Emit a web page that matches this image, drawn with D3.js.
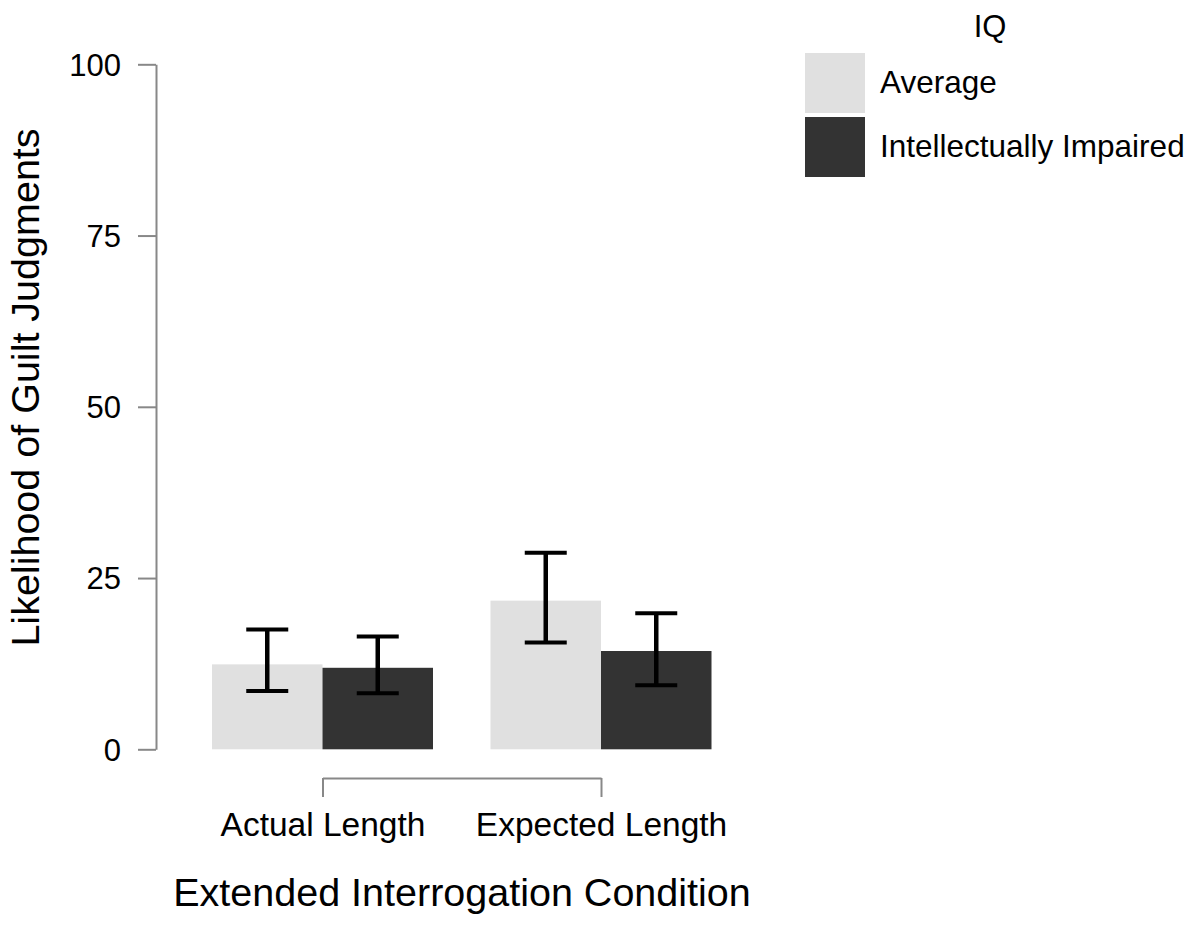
<!DOCTYPE html>
<html>
<head>
<meta charset="utf-8">
<script src="https://cdn.jsdelivr.net/npm/d3@7"></script>
<style>
  body { margin: 0; background: #fff; }
  text { font-family: "Liberation Sans", Arial, sans-serif; fill: #000; }
</style>
</head>
<body>
<div id="chart"></div>
<script>
// data
var conditions = ["Actual Length", "Expected Length"];
var groups = ["Average", "Intellectually Impaired"];
var means = [[12.4, 11.9], [21.7, 14.35]];
var lower = [[8.5, 8.2], [15.6, 9.35]];
var upper = [[17.5, 16.45], [28.7, 19.85]];
var yTicks = [0, 25, 50, 75, 100];
var groupColors = ["#e0e0e0", "#333333"];

var width = 1193, height = 925;

var svg = d3.select("#chart").append("svg")
	.attr("width", width)
	.attr("height", height);

var y = d3.scaleLinear().domain([0, 100]).range([749.3, 64.3]);

var x = d3.scalePoint().domain(conditions).range([322.5, 601]);

var xInner = d3.scaleBand().domain(groups).range([-110.5, 110.5]).padding(0);

// y axis
var yAxis = svg.append("g")
	.attr("transform", "translate(156,0)")
	.call(d3.axisLeft(y).tickValues(yTicks).tickSize(18).tickSizeOuter(0).tickPadding(17));
yAxis.select(".domain").attr("stroke", "#888").attr("stroke-width", 2);
yAxis.selectAll(".tick line").attr("stroke", "#888").attr("stroke-width", 2);
yAxis.selectAll(".tick text")
	.style("font-family", "Liberation Sans, Arial, sans-serif")
	.style("font-size", "31px")
	.attr("fill", "#000")
	.attr("dy", "0.35em");

// x axis bracket
var xAxis = svg.append("g")
	.attr("transform", "translate(0,778)")
	.call(d3.axisBottom(x).tickSize(19).tickSizeOuter(0).tickPadding(15));
xAxis.select(".domain").attr("stroke", "#888").attr("stroke-width", 2);
xAxis.selectAll(".tick line").attr("stroke", "#888").attr("stroke-width", 2);
xAxis.selectAll(".tick text")
	.style("font-family", "Liberation Sans, Arial, sans-serif")
	.style("font-size", "33.5px")
	.attr("fill", "#000");

// bars
var cond = svg.append("g").selectAll("g")
	.data(conditions)
	.enter().append("g")
	.attr("transform", function(d) { return "translate(" + x(d) + ",0)"; });

cond.selectAll("rect")
	.data(function(d, i) { return groups.map(function(g, j) { return {g: g, j: j, v: means[i][j]}; }); })
	.enter().append("rect")
	.attr("x", function(d) { return xInner(d.g); })
	.attr("width", xInner.bandwidth())
	.attr("y", function(d) { return y(d.v); })
	.attr("height", function(d) { return y(0) - y(d.v); })
	.attr("fill", function(d) { return groupColors[d.j]; });

// error bars
var errs = cond.selectAll("g.err")
	.data(function(d, i) { return groups.map(function(g, j) { return {g: g, lo: lower[i][j], hi: upper[i][j]}; }); })
	.enter().append("g")
	.attr("class", "err")
	.attr("transform", function(d) { return "translate(" + (xInner(d.g) + xInner.bandwidth() / 2) + ",0)"; });

errs.append("line")
	.attr("x1", 0).attr("x2", 0)
	.attr("y1", function(d) { return y(d.lo); })
	.attr("y2", function(d) { return y(d.hi); })
	.attr("stroke", "#000").attr("stroke-width", 4.5);
errs.append("line")
	.attr("x1", -21).attr("x2", 21)
	.attr("y1", function(d) { return y(d.hi); })
	.attr("y2", function(d) { return y(d.hi); })
	.attr("stroke", "#000").attr("stroke-width", 4);
errs.append("line")
	.attr("x1", -21).attr("x2", 21)
	.attr("y1", function(d) { return y(d.lo); })
	.attr("y2", function(d) { return y(d.lo); })
	.attr("stroke", "#000").attr("stroke-width", 4);

// axis titles
svg.append("text")
	.attr("x", 462)
	.attr("y", 906)
	.attr("text-anchor", "middle")
	.style("font-size", "39.5px")
	.text("Extended Interrogation Condition");

svg.append("text")
	.attr("transform", "translate(39,387.5) rotate(-90)")
	.attr("text-anchor", "middle")
	.style("font-size", "39.5px")
	.text("Likelihood of Guilt Judgments");

// legend
var legend = svg.append("g");
legend.append("text")
	.attr("x", 990)
	.attr("y", 37)
	.attr("text-anchor", "middle")
	.style("font-size", "31px")
	.text("IQ");

var items = legend.selectAll("g.item")
	.data(groups)
	.enter().append("g")
	.attr("class", "item")
	.attr("transform", function(d, i) { return "translate(805," + (53 + i * 64) + ")"; });
items.append("rect")
	.attr("width", 60).attr("height", 60)
	.attr("fill", function(d, i) { return groupColors[i]; });
items.append("text")
	.attr("x", 75)
	.attr("y", 40)
	.style("font-size", "31.5px")
	.text(function(d) { return d; });
</script>
</body>
</html>
